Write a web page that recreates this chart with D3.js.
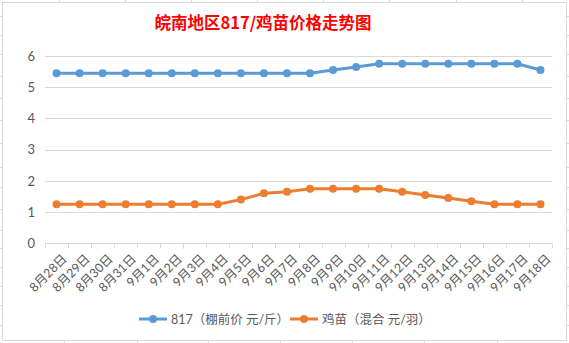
<!DOCTYPE html>
<html>
<head>
<meta charset="utf-8">
<script src="https://cdn.jsdelivr.net/npm/d3@7/dist/d3.min.js"></script>
<style>
  html, body { margin: 0; padding: 0; background: #fff; }
  svg { display: block; }
  text { font-family: "Lato", "Noto Sans CJK SC", sans-serif; }
</style>
</head>
<body>
<svg id="chart" width="569" height="343"></svg>
<script>
// Dates on the category axis
const categories = [
  "8月28日", "8月29日", "8月30日", "8月31日",
  "9月1日", "9月2日", "9月3日", "9月4日", "9月5日", "9月6日", "9月7日",
  "9月8日", "9月9日", "9月10日", "9月11日", "9月12日", "9月13日", "9月14日",
  "9月15日", "9月16日", "9月17日", "9月18日"
];
// 817 broiler price at the shed (yuan per jin)
const price817 = [
  5.45, 5.45, 5.45, 5.45, 5.45, 5.45, 5.45, 5.45, 5.45, 5.45, 5.45,
  5.45, 5.55, 5.65, 5.75, 5.75, 5.75, 5.75, 5.75, 5.75, 5.75, 5.55
];
// Chick price, mixed sex (yuan per bird)
const priceChick = [
  1.25, 1.25, 1.25, 1.25, 1.25, 1.25, 1.25, 1.25, 1.4, 1.6, 1.65,
  1.75, 1.75, 1.75, 1.75, 1.65, 1.55, 1.45, 1.35, 1.25, 1.25, 1.25
];
const yTicks = [0, 1, 2, 3, 4, 5, 6];
const seriesNames = ["817（棚前价 元/斤）", "鸡苗（混合 元/羽）"];
const titleText = "皖南地区817/鸡苗价格走势图";

const colors = ["#5B9BD5", "#ED7D31"];
const series = [price817, priceChick];

const svg = d3.select("#chart");
const W = 569, H = 343;
const gridColor = "#d9d9d9";
const textColor = "#595959";

// Worksheet cell lines peeking around the chart object
const sheet = svg.append("g").attr("stroke", "#dadada").attr("stroke-width", 1);
[59, 125, 191, 257, 323, 389, 456, 522].forEach(x =>
  sheet.append("line").attr("x1", x + 0.5).attr("x2", x + 0.5).attr("y1", 0).attr("y2", 2));
[64, 137, 208, 280, 352, 424, 497].forEach(x =>
  sheet.append("line").attr("x1", x + 0.5).attr("x2", x + 0.5).attr("y1", 341).attr("y2", H));
[16, 35, 54, 76, 98, 120, 143, 167, 187, 209, 230, 248, 267, 286, 305, 325].forEach(y => {
  sheet.append("line").attr("x1", 0).attr("x2", 2).attr("y1", y + 0.5).attr("y2", y + 0.5);
  sheet.append("line").attr("x1", 567).attr("x2", W).attr("y1", y + 0.5).attr("y2", y + 0.5);
});

// Chart frame
svg.append("rect")
  .attr("x", 2.5).attr("y", 2.5).attr("width", 564).attr("height", 338)
  .attr("fill", "#fff").attr("stroke", gridColor).attr("stroke-width", 1);

// Plot area
const plot = { left: 45, right: 552, top: 56, bottom: 243.3 };

const x = d3.scaleBand()
  .domain(categories)
  .range([plot.left, plot.right])
  .paddingInner(0).paddingOuter(0);

const y = d3.scaleLinear()
  .domain([0, 6])
  .range([plot.bottom, plot.top]);

// Title
svg.append("text")
  .attr("x", 263).attr("y", 29)
  .attr("text-anchor", "middle")
  .attr("fill", "#FF0000")
  .attr("font-size", 16.5)
  .attr("font-weight", "bold")
  .style("font-family", "'Noto Sans CJK SC', sans-serif")
  .text(titleText);

// Horizontal gridlines
svg.append("g")
  .selectAll("line")
  .data(yTicks.filter(d => d > 0))
  .join("line")
  .attr("x1", plot.left).attr("x2", plot.right)
  .attr("y1", d => Math.round(y(d)) + 0.5)
  .attr("y2", d => Math.round(y(d)) + 0.5)
  .attr("stroke", gridColor).attr("stroke-width", 1);

// Y axis labels
const yAxis = d3.axisLeft(y).tickValues(yTicks).tickFormat(d3.format("d")).tickSize(0).tickPadding(10);
const gy = svg.append("g").attr("transform", `translate(${plot.left},0)`).call(yAxis);
gy.select(".domain").remove();
gy.selectAll("text")
  .attr("fill", textColor)
  .attr("font-size", 13)
  .style("font-family", "'Lato', sans-serif");

// Category axis with ticks between bands
const baseY = Math.round(y(0)) + 0.5;
const gx = svg.append("g");
gx.append("line")
  .attr("x1", plot.left).attr("x2", plot.right)
  .attr("y1", baseY).attr("y2", baseY)
  .attr("stroke", gridColor).attr("stroke-width", 1);
const edges = categories.map(c => x(c)).concat([x(categories[categories.length - 1]) + x.bandwidth()]);
gx.selectAll("line.tick")
  .data(edges)
  .join("line")
  .attr("class", "tick")
  .attr("x1", d => Math.round(d) + 0.5).attr("x2", d => Math.round(d) + 0.5)
  .attr("y1", baseY).attr("y2", baseY + 5)
  .attr("stroke", gridColor).attr("stroke-width", 1);

gx.selectAll("text")
  .data(categories)
  .join("text")
  .attr("transform", d => `translate(${x(d) + x.bandwidth() / 2 + 8},${baseY + 13}) rotate(-45)`)
  .attr("text-anchor", "end")
  .attr("dy", "0.35em")
  .attr("fill", textColor)
  .attr("font-size", 12.5)
  .text(d => d);

// Series lines and markers
const line = d3.line()
  .x((d, i) => x(categories[i]) + x.bandwidth() / 2)
  .y(d => y(d));

series.forEach((vals, k) => {
  const g = svg.append("g");
  g.append("path")
    .datum(vals)
    .attr("d", line)
    .attr("fill", "none")
    .attr("stroke", colors[k])
    .attr("stroke-width", 3)
    .attr("stroke-linejoin", "round");
  g.selectAll("circle")
    .data(vals)
    .join("circle")
    .attr("cx", (d, i) => x(categories[i]) + x.bandwidth() / 2)
    .attr("cy", d => y(d))
    .attr("r", 4)
    .attr("fill", colors[k]);
});

// Legend
const legendY = 319;
const legendStarts = [139, 290];
seriesNames.forEach((name, k) => {
  const lx = legendStarts[k];
  const g = svg.append("g");
  g.append("line")
    .attr("x1", lx).attr("x2", lx + 28)
    .attr("y1", legendY).attr("y2", legendY)
    .attr("stroke", colors[k]).attr("stroke-width", 3);
  g.append("circle")
    .attr("cx", lx + 14).attr("cy", legendY).attr("r", 4)
    .attr("fill", colors[k]);
  g.append("text")
    .attr("x", lx + 32).attr("y", legendY)
    .attr("dy", "0.36em")
    .attr("fill", textColor)
    .attr("font-size", 12.5)
    .text(name);
});
</script>
</body>
</html>
